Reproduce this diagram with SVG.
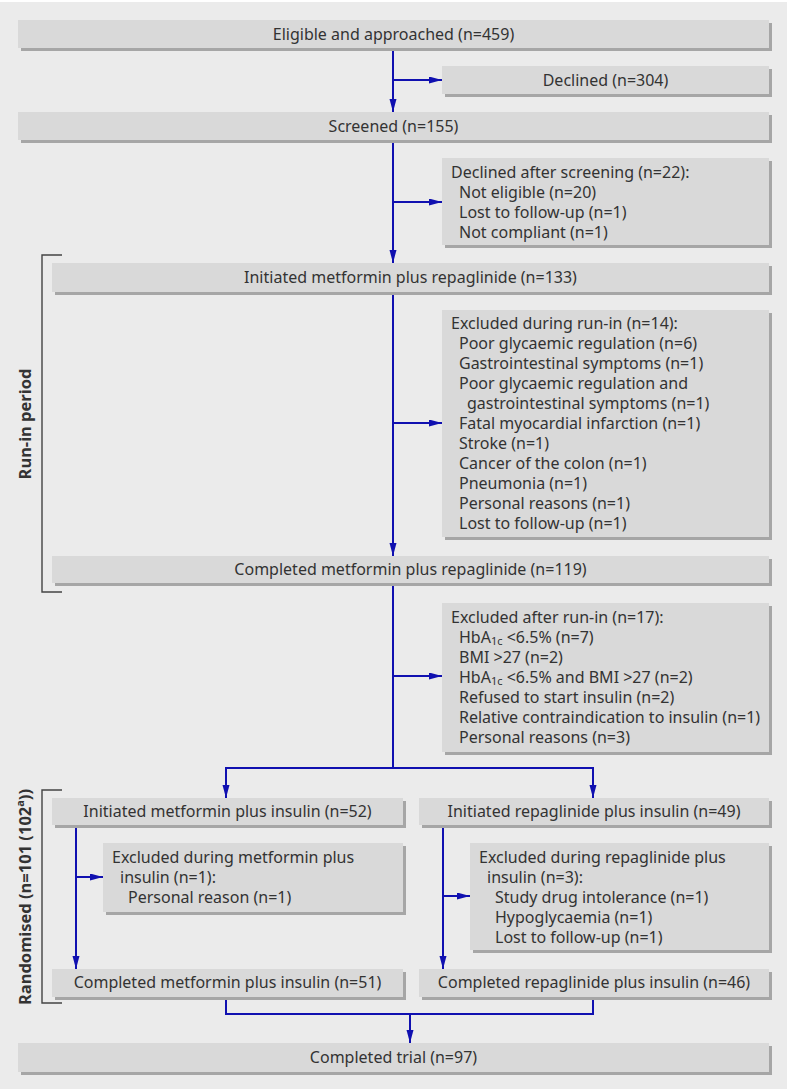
<svg xmlns="http://www.w3.org/2000/svg" width="787" height="1089" viewBox="0 0 787 1089">
<defs>
<style>
.sh{fill:#a6a6a6}
.bx{fill:#d9d9d9}
text{font-family:"Noto Sans","Open Sans","Liberation Sans",sans-serif;font-size:16px;fill:#333}
.c{text-anchor:middle}
.lbl{font-weight:bold;font-size:16.5px;text-anchor:middle;fill:#333}
.cn{fill:none;stroke:#1010b0;stroke-width:2}
.br{fill:none;stroke:#444;stroke-width:1.4}
.sub{font-size:11px}
</style>
<marker id="ah" markerUnits="userSpaceOnUse" markerWidth="14" markerHeight="8" refX="13" refY="3.5" orient="auto">
<path d="M0,0 L13,3.5 L0,7 z" fill="#1010b0"/>
</marker>
</defs>
<rect x="0" y="0" width="787" height="1089" fill="#ffffff"/>
<rect x="0" y="2" width="787" height="1087" fill="#ebebeb"/>

<g id="brackets">
<path class="br" d="M62,255 H42 V592 H62"/>
<text class="lbl" transform="translate(31,424) rotate(-90)">Run-in period</text>
<path class="br" d="M62,790 H42 V1003 H62"/>
<text class="lbl" transform="translate(31,897) rotate(-90)">Randomised  (n=101 (102<tspan class="sub" baseline-shift="super">a</tspan>))</text>
</g>

<g id="connectors">
<line class="cn" x1="393" y1="48" x2="393" y2="112" marker-end="url(#ah)"/>
<line class="cn" x1="393" y1="80" x2="442" y2="80" marker-end="url(#ah)"/>
<line class="cn" x1="393" y1="140" x2="393" y2="263" marker-end="url(#ah)"/>
<line class="cn" x1="393" y1="202" x2="442" y2="202" marker-end="url(#ah)"/>
<line class="cn" x1="393" y1="292" x2="393" y2="556" marker-end="url(#ah)"/>
<line class="cn" x1="393" y1="423" x2="442" y2="423" marker-end="url(#ah)"/>
<line class="cn" x1="393" y1="583" x2="393" y2="768"/>
<line class="cn" x1="393" y1="676" x2="442" y2="676" marker-end="url(#ah)"/>
<line class="cn" x1="225" y1="768" x2="594" y2="768"/>
<line class="cn" x1="226" y1="768" x2="226" y2="798" marker-end="url(#ah)"/>
<line class="cn" x1="593" y1="768" x2="593" y2="798" marker-end="url(#ah)"/>
<line class="cn" x1="76" y1="825" x2="76" y2="969" marker-end="url(#ah)"/>
<line class="cn" x1="76" y1="877" x2="103" y2="877" marker-end="url(#ah)"/>
<line class="cn" x1="443" y1="825" x2="443" y2="969" marker-end="url(#ah)"/>
<line class="cn" x1="443" y1="896" x2="470" y2="896" marker-end="url(#ah)"/>
<path class="cn" d="M226,997 V1014 H593 V997"/>
<line class="cn" x1="410" y1="1014" x2="410" y2="1043" marker-end="url(#ah)"/>
</g>

<g id="n1">
<rect class="sh" x="21" y="23" width="751" height="28"/>
<rect class="bx" x="18" y="20" width="751" height="28"/>
<text class="c" x="393.5" y="40">Eligible and approached (n=459)</text>
</g>
<g id="n2">
<rect class="sh" x="445" y="69" width="327" height="28"/>
<rect class="bx" x="442" y="66" width="327" height="28"/>
<text class="c" x="605.5" y="86">Declined (n=304)</text>
</g>
<g id="n3">
<rect class="sh" x="21" y="115" width="751" height="28"/>
<rect class="bx" x="18" y="112" width="751" height="28"/>
<text class="c" x="393.5" y="132">Screened (n=155)</text>
</g>
<g id="n4">
<rect class="sh" x="445" y="161" width="327" height="87"/>
<rect class="bx" x="442" y="158" width="327" height="87"/>
<text x="451" y="178">Declined after screening (n=22):</text>
<text x="459" y="198">Not eligible (n=20)</text>
<text x="459" y="218">Lost to follow-up (n=1)</text>
<text x="459" y="238">Not compliant (n=1)</text>
</g>
<g id="n5">
<rect class="sh" x="55" y="266" width="717" height="29"/>
<rect class="bx" x="52" y="263" width="717" height="29"/>
<text class="c" x="410.5" y="283">Initiated metformin plus repaglinide (n=133)</text>
</g>
<g id="n6">
<rect class="sh" x="445" y="313" width="327" height="227"/>
<rect class="bx" x="442" y="310" width="327" height="227"/>
<text x="451" y="329">Excluded during run-in (n=14):</text>
<text x="459" y="349">Poor glycaemic regulation (n=6)</text>
<text x="459" y="369">Gastrointestinal symptoms (n=1)</text>
<text x="459" y="389">Poor glycaemic regulation and</text>
<text x="467" y="409">gastrointestinal symptoms (n=1)</text>
<text x="459" y="429">Fatal myocardial infarction (n=1)</text>
<text x="459" y="449">Stroke (n=1)</text>
<text x="459" y="469">Cancer of the colon (n=1)</text>
<text x="459" y="489">Pneumonia (n=1)</text>
<text x="459" y="509">Personal reasons (n=1)</text>
<text x="459" y="529">Lost to follow-up (n=1)</text>
</g>
<g id="n7">
<rect class="sh" x="55" y="559" width="717" height="27"/>
<rect class="bx" x="52" y="556" width="717" height="27"/>
<text class="c" x="410.5" y="575">Completed metformin plus repaglinide (n=119)</text>
</g>
<g id="n8">
<rect class="sh" x="445" y="606" width="327" height="149"/>
<rect class="bx" x="442" y="603" width="327" height="149"/>
<text x="451" y="623">Excluded after run-in (n=17):</text>
<text x="459" y="643">HbA<tspan class="sub" baseline-shift="-2">1c</tspan> &lt;6.5% (n=7)</text>
<text x="459" y="663">BMI &gt;27 (n=2)</text>
<text x="459" y="683">HbA<tspan class="sub" baseline-shift="-2">1c</tspan> &lt;6.5% and BMI &gt;27 (n=2)</text>
<text x="459" y="703">Refused to start insulin (n=2)</text>
<text x="459" y="723">Relative contraindication to insulin (n=1)</text>
<text x="459" y="743">Personal reasons (n=3)</text>
</g>
<g id="n9">
<rect class="sh" x="55" y="801" width="351" height="27"/>
<rect class="bx" x="52" y="798" width="351" height="27"/>
<text class="c" x="227.5" y="817">Initiated metformin plus insulin (n=52)</text>
</g>
<g id="n10">
<rect class="sh" x="422" y="801" width="350" height="27"/>
<rect class="bx" x="419" y="798" width="350" height="27"/>
<text class="c" x="594" y="817">Initiated repaglinide plus insulin (n=49)</text>
</g>
<g id="n11">
<rect class="sh" x="106" y="846" width="300" height="69"/>
<rect class="bx" x="103" y="843" width="300" height="69"/>
<text x="112" y="863">Excluded during metformin plus</text>
<text x="120" y="883">insulin (n=1):</text>
<text x="128" y="903">Personal reason (n=1)</text>
</g>
<g id="n12">
<rect class="sh" x="473" y="846" width="299" height="107"/>
<rect class="bx" x="470" y="843" width="299" height="107"/>
<text x="479" y="863">Excluded during repaglinide plus</text>
<text x="487" y="883">insulin (n=3):</text>
<text x="495" y="903">Study drug intolerance (n=1)</text>
<text x="495" y="923">Hypoglycaemia (n=1)</text>
<text x="495" y="943">Lost to follow-up (n=1)</text>
</g>
<g id="n13">
<rect class="sh" x="55" y="972" width="351" height="28"/>
<rect class="bx" x="52" y="969" width="351" height="28"/>
<text class="c" x="227.5" y="988">Completed metformin plus insulin (n=51)</text>
</g>
<g id="n14">
<rect class="sh" x="422" y="972" width="350" height="28"/>
<rect class="bx" x="419" y="969" width="350" height="28"/>
<text class="c" x="594" y="988">Completed repaglinide plus insulin (n=46)</text>
</g>
<g id="n15">
<rect class="sh" x="21" y="1046" width="751" height="29"/>
<rect class="bx" x="18" y="1043" width="751" height="29"/>
<text class="c" x="393.5" y="1063">Completed trial (n=97)</text>
</g>
</svg>
